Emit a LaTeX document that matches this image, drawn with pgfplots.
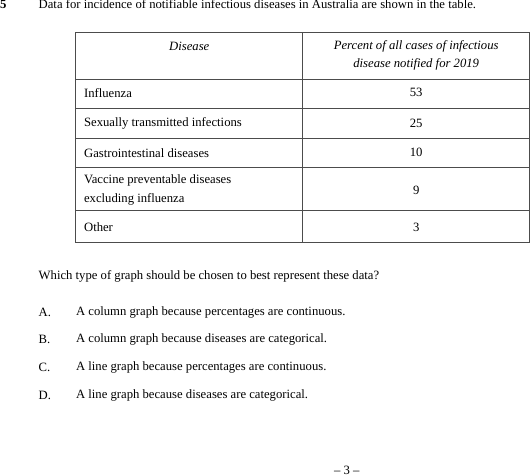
\documentclass[border=0pt]{standalone}
\usepackage{pgfplots}
\pgfplotsset{compat=1.18}
\usepackage{fontspec}
\setmainfont{Liberation Serif}
\begin{document}
\begin{tikzpicture}
\begin{axis}[width=530pt,height=400pt,scale only axis,xmin=0,xmax=530,ymin=0,ymax=400,hide axis,clip=false]
\tikzset{every node/.style={font=\fontsize{9.5}{11}\selectfont,inner sep=0pt}}
\node[anchor=west] at (axis cs:5,391) {\textbf{5}};
\node[anchor=west] at (axis cs:34,391) {Data for incidence of notifiable infectious diseases in Australia are shown in the table.};
\draw[black!70,line width=0.5pt] (axis cs:62,370) rectangle (axis cs:402,213);
\draw[black!70,line width=0.5pt] (axis cs:232,370) -- (axis cs:232,213);
\draw[black!70,line width=0.5pt] (axis cs:62,335) -- (axis cs:402,335);
\draw[black!70,line width=0.5pt] (axis cs:62,313) -- (axis cs:402,313);
\draw[black!70,line width=0.5pt] (axis cs:62,291) -- (axis cs:402,291);
\draw[black!70,line width=0.5pt] (axis cs:62,269) -- (axis cs:402,269);
\draw[black!70,line width=0.5pt] (axis cs:62,237) -- (axis cs:402,237);
\node at (axis cs:147,360) {\itshape Disease};
\node at (axis cs:317,360) {\itshape Percent of all cases of infectious};
\node at (axis cs:317,346) {\itshape disease notified for 2019};
\node[anchor=west] at (axis cs:68,325) {Influenza};
\node[anchor=west] at (axis cs:68,302) {Sexually transmitted infections};
\node[anchor=west] at (axis cs:68,280) {Gastrointestinal diseases};
\node[anchor=west] at (axis cs:68,259) {Vaccine preventable diseases};
\node[anchor=west] at (axis cs:68,245) {excluding influenza};
\node[anchor=west] at (axis cs:68,224) {Other};
\node at (axis cs:317,325) {53};
\node at (axis cs:317,302) {25};
\node at (axis cs:317,280) {10};
\node at (axis cs:317,252) {9};
\node at (axis cs:317,224) {3};
\node[anchor=west] at (axis cs:34,187) {Which type of graph should be chosen to best represent these data?};
\node[anchor=west] at (axis cs:34,160) {A.};
\node[anchor=west] at (axis cs:62,160) {A column graph because percentages are continuous.};
\node[anchor=west] at (axis cs:34,140) {B.};
\node[anchor=west] at (axis cs:62,140) {A column graph because diseases are categorical.};
\node[anchor=west] at (axis cs:34,119) {C.};
\node[anchor=west] at (axis cs:62,119) {A line graph because percentages are continuous.};
\node[anchor=west] at (axis cs:34,98) {D.};
\node[anchor=west] at (axis cs:62,98) {A line graph because diseases are categorical.};
\node at (axis cs:265,42) {– 3 –};
\end{axis}
\end{tikzpicture}
\end{document}
